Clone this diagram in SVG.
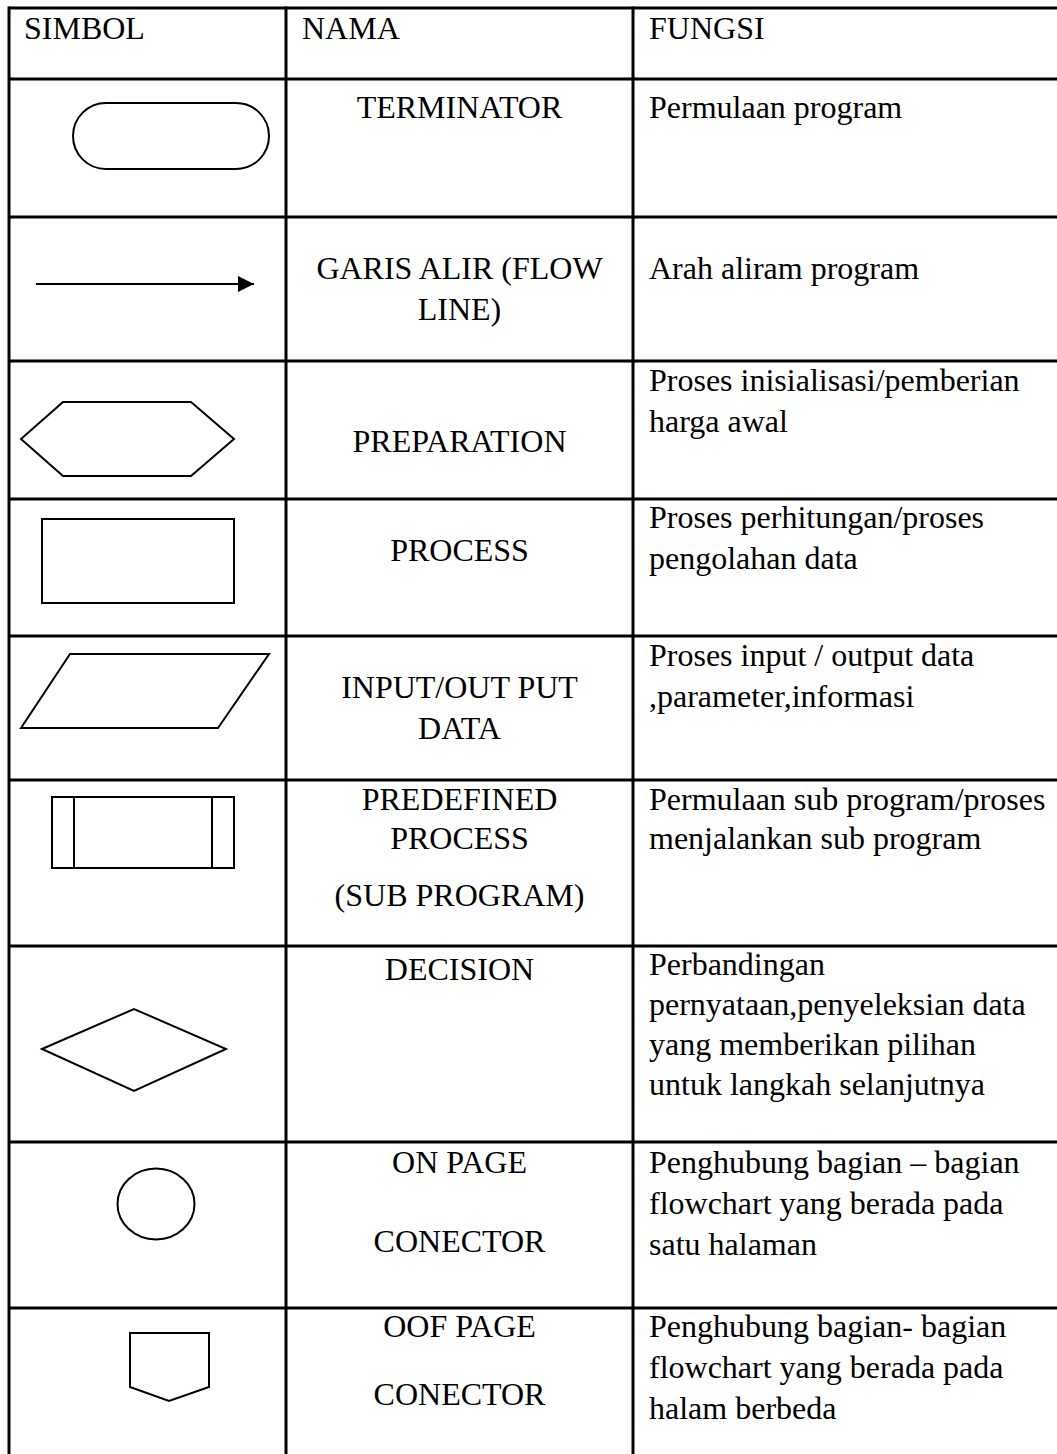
<svg xmlns="http://www.w3.org/2000/svg" width="1057" height="1454" viewBox="0 0 1057 1454">
<style>
.grid{stroke:#000;stroke-width:3;fill:none}
.shp{stroke:#000;stroke-width:2;fill:none;stroke-linejoin:miter}
text{font-family:"Liberation Serif","Times New Roman",serif;font-size:32px;fill:#000}
.c{text-anchor:middle}
</style>
<defs>
<marker id="ah" markerWidth="16" markerHeight="16" refX="16" refY="8" orient="auto" markerUnits="userSpaceOnUse">
<path d="M0,0 L16,8 L0,16 Z" fill="#000"/>
</marker>
</defs>
<rect width="1057" height="1454" fill="#fff"/>
<g id="grid" class="grid">
<line x1="9" y1="8" x2="1057" y2="8"/>
<line x1="9" y1="79" x2="1057" y2="79"/>
<line x1="9" y1="217" x2="1057" y2="217"/>
<line x1="9" y1="361" x2="1057" y2="361"/>
<line x1="9" y1="499" x2="1057" y2="499"/>
<line x1="9" y1="636" x2="1057" y2="636"/>
<line x1="9" y1="780" x2="1057" y2="780"/>
<line x1="9" y1="946" x2="1057" y2="946"/>
<line x1="9" y1="1142" x2="1057" y2="1142"/>
<line x1="9" y1="1308" x2="1057" y2="1308"/>
<line x1="9" y1="6.5" x2="9" y2="1454"/>
<line x1="286" y1="6.5" x2="286" y2="1454"/>
<line x1="633" y1="6.5" x2="633" y2="1454"/>
</g>
<g id="header">
<text x="24" y="39">SIMBOL</text>
<text x="302" y="39">NAMA</text>
<text x="649" y="39">FUNGSI</text>
</g>
<g id="terminator">
<rect class="shp" x="73" y="103" width="196" height="66" rx="33" ry="33"/>
<text class="c" x="459.5" y="118">TERMINATOR</text>
<text x="649" y="118">Permulaan program</text>
</g>
<g id="connectors">
<line class="shp" x1="36" y1="284" x2="254" y2="284" marker-end="url(#ah)"/>
</g>
<g id="flowline">
<text class="c" x="459.5" y="279">GARIS ALIR (FLOW</text>
<text class="c" x="459.5" y="320">LINE)</text>
<text x="649" y="279">Arah aliram program</text>
</g>
<g id="preparation">
<polygon class="shp" points="21,439 63,402 191,402 234,439 191,476 63,476"/>
<text class="c" x="459.5" y="452">PREPARATION</text>
<text x="649" y="391">Proses inisialisasi/pemberian</text>
<text x="649" y="432">harga awal</text>
</g>
<g id="process">
<rect class="shp" x="42" y="519" width="192" height="84"/>
<text class="c" x="459.5" y="561">PROCESS</text>
<text x="649" y="528">Proses perhitungan/proses</text>
<text x="649" y="569">pengolahan data</text>
</g>
<g id="inputoutput">
<polygon class="shp" points="70,654 269,654 218,728 21,728"/>
<text class="c" x="459.5" y="698">INPUT/OUT PUT</text>
<text class="c" x="459.5" y="739">DATA</text>
<text x="649" y="666">Proses input / output data</text>
<text x="649" y="707">,parameter,informasi</text>
</g>
<g id="predefined">
<rect class="shp" x="52" y="797" width="182" height="71"/>
<line class="shp" x1="74" y1="797" x2="74" y2="868"/>
<line class="shp" x1="212" y1="797" x2="212" y2="868"/>
<text class="c" x="459.5" y="810">PREDEFINED</text>
<text class="c" x="459.5" y="849">PROCESS</text>
<text class="c" x="459.5" y="906">(SUB PROGRAM)</text>
<text x="649" y="810">Permulaan sub program/proses</text>
<text x="649" y="849">menjalankan sub program</text>
</g>
<g id="decision">
<polygon class="shp" points="42,1049 134,1009 226,1049 134,1091"/>
<text class="c" x="459.5" y="980">DECISION</text>
<text x="649" y="975">Perbandingan</text>
<text x="649" y="1015">pernyataan,penyeleksian data</text>
<text x="649" y="1055">yang memberikan pilihan</text>
<text x="649" y="1095">untuk langkah selanjutnya</text>
</g>
<g id="onpage">
<ellipse class="shp" cx="156" cy="1204" rx="38.5" ry="35.5"/>
<text class="c" x="459.5" y="1173">ON PAGE</text>
<text class="c" x="459.5" y="1252">CONECTOR</text>
<text x="649" y="1173">Penghubung bagian – bagian</text>
<text x="649" y="1214">flowchart yang berada pada</text>
<text x="649" y="1255">satu halaman</text>
</g>
<g id="offpage">
<polygon class="shp" points="130,1333 209,1333 209,1387 169,1401 130,1387"/>
<text class="c" x="459.5" y="1337">OOF PAGE</text>
<text class="c" x="459.5" y="1405">CONECTOR</text>
<text x="649" y="1337">Penghubung bagian- bagian</text>
<text x="649" y="1378">flowchart yang berada pada</text>
<text x="649" y="1419">halam berbeda</text>
</g>
</svg>
